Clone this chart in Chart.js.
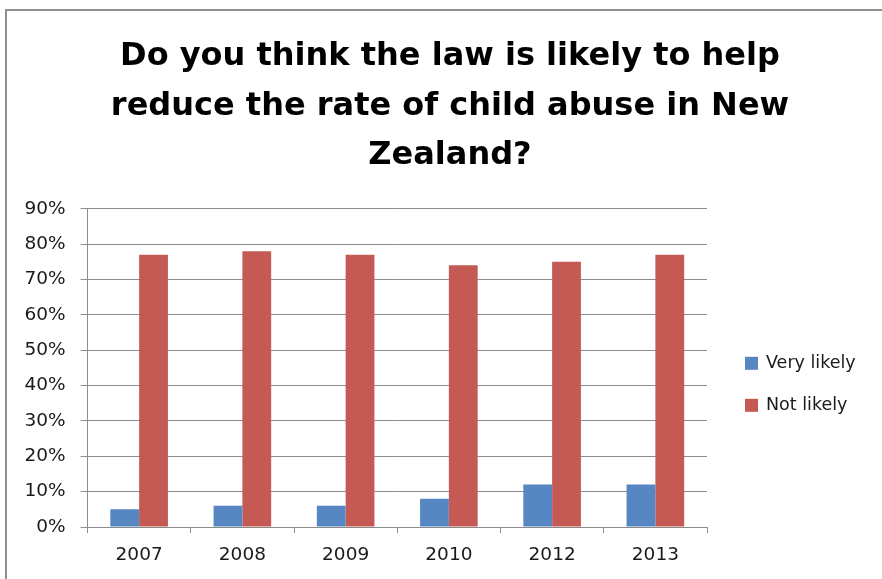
<!DOCTYPE html>
<html>
<head>
<meta charset="utf-8">
<script src="https://cdn.jsdelivr.net/npm/chart.js@4.4.1/dist/chart.umd.min.js"></script>
<style>
  html, body { margin: 0; padding: 0; background: #fff; overflow: hidden; }
  #wrap { position: relative; width: 882px; height: 579px; overflow: hidden; }
  #frame { position: absolute; left: 5px; top: 9px; width: 1000px; height: 1000px;
           border: 2px solid #8e8e8e; box-sizing: border-box; }
  #c { position: absolute; left: 0; top: 0; }
</style>
</head>
<body>
<div id="wrap">
  <div id="frame"></div>
  <canvas id="c" width="882" height="579"></canvas>
</div>
<script>
// Survey answers by year, in percent
const titleLines = [
  'Do you think the law is likely to help',
  'reduce the rate of child abuse in New',
  'Zealand?'
];
const years = ['2007', '2008', '2009', '2010', '2012', '2013'];
const veryLikely = [5, 6, 6, 8, 12, 12];
const notLikely = [77, 78, 77, 74, 75, 77];
const seriesNames = ['Very likely', 'Not likely'];
const seriesColors = ['#5787c3', '#c55a55'];
const yMin = 0, yMax = 90, yStep = 10;

const FONT = 'DejaVu Sans';
const TEXT = '#1a1a1a';
const GRID = '#8c8c8c';

// Legend keys drawn to the right of the plot
const sideLegend = {
  id: 'sideLegend',
  afterDraw(chart) {
    const { ctx, chartArea } = chart;
    const x = chartArea.right + 38;
    const y0 = chartArea.top + 154.5;
    ctx.save();
    ctx.font = '17.5px "' + FONT + '"';
    ctx.textBaseline = 'middle';
    ctx.textAlign = 'left';
    chart.data.datasets.forEach((ds, i) => {
      const cy = y0 + i * 42;
      ctx.fillStyle = ds.backgroundColor;
      ctx.fillRect(x, cy - 6.5, 13, 13);
      ctx.fillStyle = TEXT;
      ctx.fillText(ds.label, x + 21, cy);
    });
    ctx.restore();
  }
};

new Chart(document.getElementById('c'), {
  type: 'bar',
  data: {
    labels: years,
    datasets: [
      { label: seriesNames[0], data: veryLikely, backgroundColor: seriesColors[0] },
      { label: seriesNames[1], data: notLikely, backgroundColor: seriesColors[1] }
    ]
  },
  options: {
    responsive: false,
    animation: false,
    devicePixelRatio: 1,
    layout: { padding: { left: 18, right: 0, top: 0, bottom: 0 } },
    datasets: { bar: { categoryPercentage: 0.558, barPercentage: 1.0, borderWidth: 0 } },
    plugins: {
      legend: { display: false },
      tooltip: { enabled: false },
      title: {
        display: true,
        text: titleLines,
        color: '#000',
        font: { family: FONT, size: 32, weight: 'bold', lineHeight: 1.55 },
        padding: { top: 32, bottom: 28 }
      }
    },
    scales: {
      x: {
        grid: { display: true, drawOnChartArea: false, drawTicks: true, tickLength: 6,
                offset: true, color: GRID, lineWidth: 1 },
        border: { display: true, color: GRID, width: 1 },
        ticks: { color: TEXT, font: { family: FONT, size: 18.5 }, padding: 11,
                 maxRotation: 0, autoSkip: false },
        afterFit(s) { s.height = 52; }
      },
      y: {
        min: yMin,
        max: yMax,
        grid: { color: GRID, lineWidth: 1, drawTicks: true, tickLength: 7 },
        border: { display: true, color: GRID, width: 1 },
        ticks: { stepSize: yStep, color: TEXT, font: { family: FONT, size: 18.5 }, padding: 15,
                 callback: v => v + '%' },
        afterFit(s) { s.width = 69.5; }
      },
      // empty band on the right that holds the legend
      side: {
        type: 'linear',
        position: 'right',
        display: true,
        grid: { display: false, drawTicks: false },
        border: { display: false },
        ticks: { display: false },
        afterFit(s) { s.width = 175; }
      }
    }
  },
  plugins: [sideLegend]
});
</script>
</body>
</html>
